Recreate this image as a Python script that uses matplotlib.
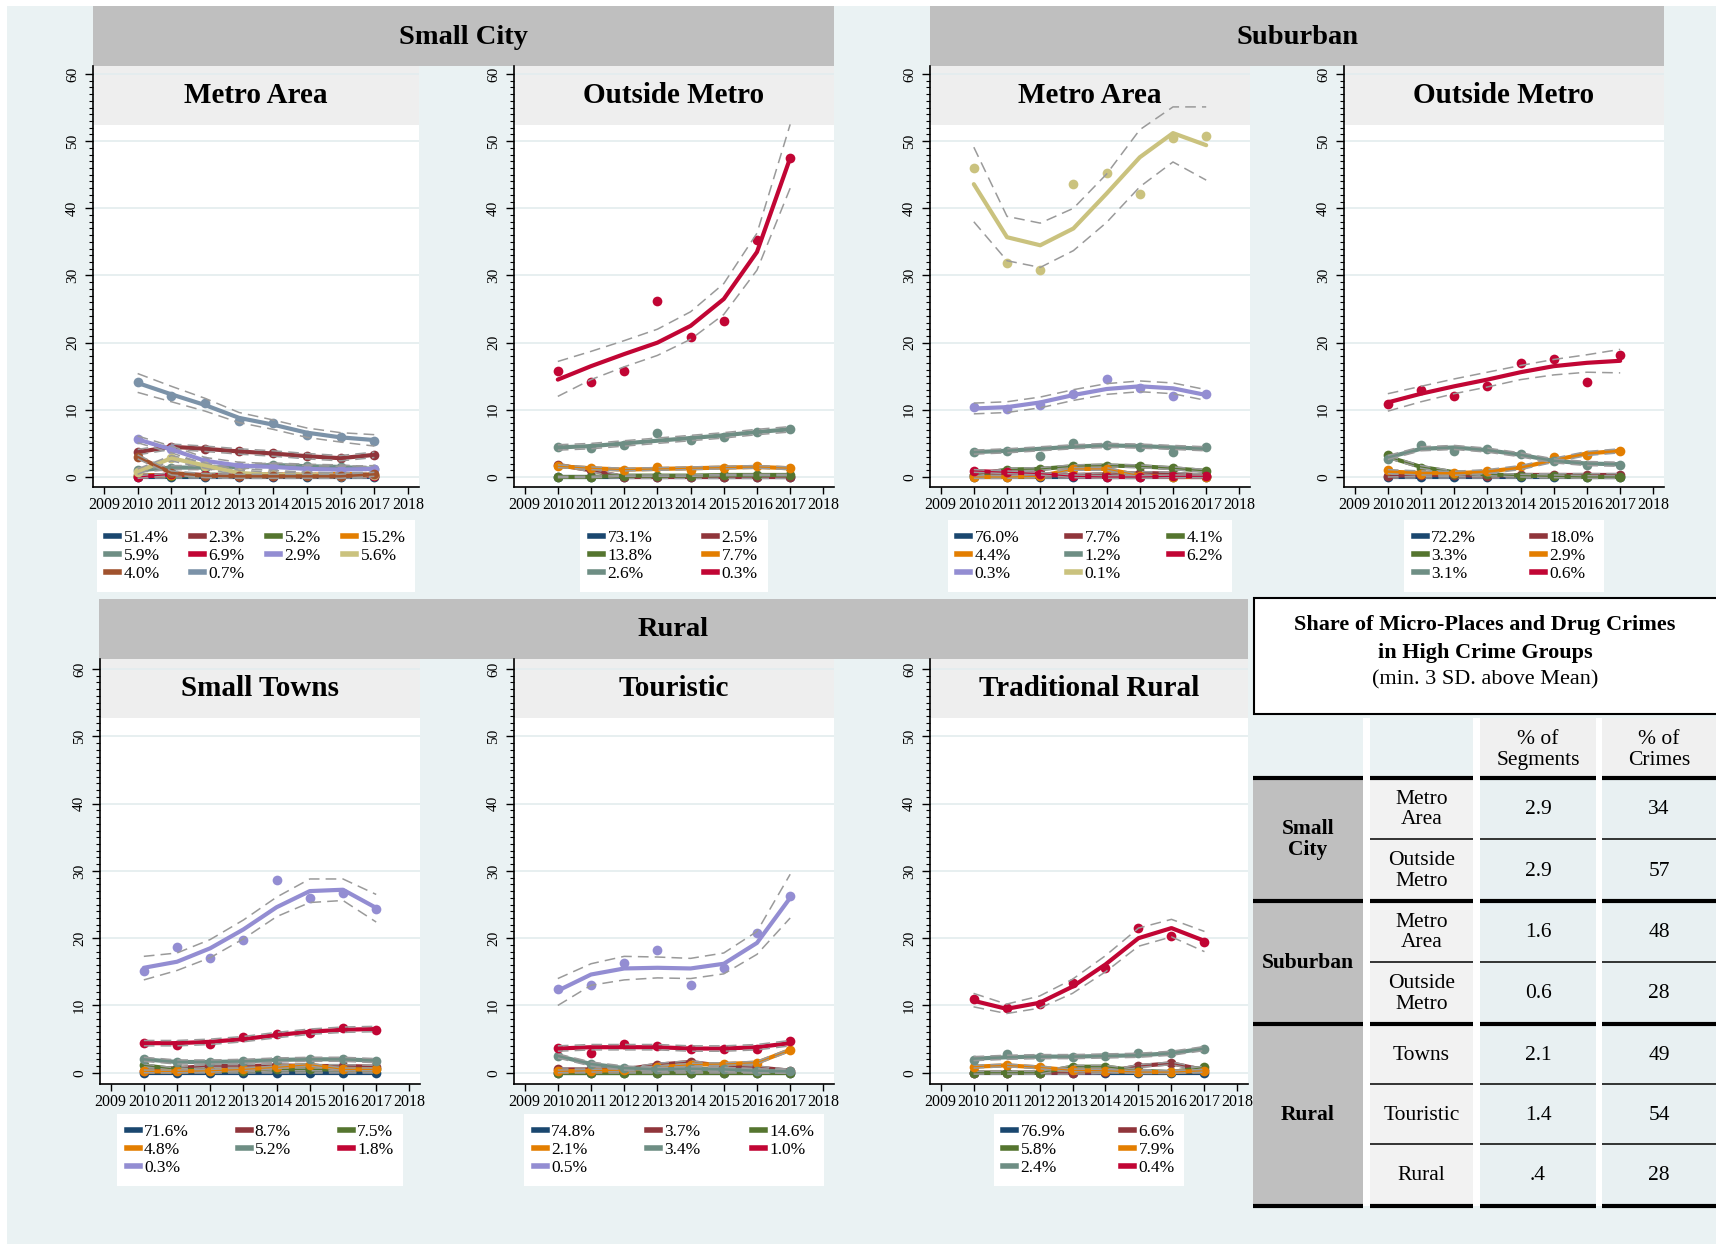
import matplotlib
matplotlib.use('Agg')
import matplotlib.pyplot as plt
from matplotlib.patches import Rectangle
from matplotlib.lines import Line2D

plt.rcParams['font.family'] = ['Liberation Serif', 'DejaVu Serif']

W, H = 1716, 1247
YEARS = [2010, 2011, 2012, 2013, 2014, 2015, 2016, 2017]

# Stata s2color palette
PALETTE = ['#1a476f', '#90353b', '#55752f', '#e37e00', '#6e8e84',
           '#c10534', '#938dd2', '#cac27e', '#a0522d', '#7b92a8']
C_BG = '#EAF2F3'
C_HEAD = '#BFBFBF'
C_SUB = '#EEEEEE'
C_GRID = '#E3ECEE'
C_CI = '#9A9A9A'

# ─────────────────────────────────────────────
# Small City — Metro Area
# ─────────────────────────────────────────────
SCM_SHARES = ['51.4%', '2.3%', '5.2%', '15.2%', '5.9%', '6.9%', '2.9%', '5.6%', '4.0%', '0.7%']
SCM_OBS = [
    [0.0, 0.0, 0.0, 0.0, 0.0, 0.0, 0.0, 0.0],
    [3.7, 4.5, 4.2, 3.8, 3.5, 3.1, 2.8, 3.3],
    [0.3, 0.2, 0.3, 0.4, 0.3, 0.3, 0.2, 0.2],
    [0.2, 0.3, 0.3, 0.2, 0.4, 0.3, 0.5, 0.3],
    [1.0, 1.4, 1.4, 1.5, 1.8, 1.6, 1.5, 1.2],
    [0.0, 0.4, 0.3, 0.2, 0.2, 0.3, 0.2, 0.2],
    [5.6, 4.1, 2.4, 1.7, 1.5, 1.2, 1.1, 1.2],
    [0.8, 2.8, 1.7, 0.6, 0.3, 0.3, 0.2, 0.3],
    [3.0, 0.6, 0.2, 0.1, 0.1, 0.1, 0.1, 0.4],
    [14.1, 12.1, 11.0, 8.4, 8.0, 6.3, 6.0, 5.4],
]
SCM_FIT = [None, None, None, None, None, None, None, None, None,
           [14.0, 12.3, 10.7, 8.8, 7.8, 6.6, 5.9, 5.5]]
SCM_BAND = [0.1, 0.4, 0.2, 0.2, 0.3, 0.2, 0.5, 0.4, 0.3, 0.0]
SCM_MAIN = 9
SCM_LO = [12.6, 11.2, 9.8, 8.1, 7.1, 5.9, 5.2, 4.6]
SCM_HI = [15.4, 13.5, 11.7, 9.6, 8.5, 7.3, 6.6, 6.3]

# ─────────────────────────────────────────────
# Small City — Outside Metro
# ─────────────────────────────────────────────
SCO_SHARES = ['73.1%', '2.5%', '13.8%', '7.7%', '2.6%', '0.3%']
SCO_OBS = [
    [0.0, 0.0, 0.0, 0.0, 0.0, 0.0, 0.0, 0.0],
    [1.8, 1.0, 0.0, 0.0, 0.0, 0.0, 0.0, 0.0],
    [0.0, 0.0, 0.2, 0.2, 0.2, 0.3, 0.3, 0.3],
    [1.7, 1.3, 1.0, 1.5, 1.1, 1.4, 1.6, 1.3],
    [4.5, 4.3, 4.7, 6.5, 5.5, 5.9, 6.7, 7.1],
    [15.8, 14.1, 15.8, 26.2, 20.8, 23.2, 35.3, 47.5],
]
SCO_FIT = [None, None, None,
           [1.6, 1.3, 1.1, 1.2, 1.3, 1.4, 1.5, 1.3],
           [4.4, 4.6, 5.0, 5.4, 5.8, 6.2, 6.7, 7.1],
           [14.5, 16.5, 18.3, 20.0, 22.5, 26.5, 33.5, 47.5]]
SCO_BAND = [0.1, 0.2, 0.1, 0.2, 0.4, 0.0]
SCO_MAIN = 5
SCO_LO = [12.0, 14.5, 16.4, 18.1, 20.5, 24.2, 30.8, 43.0]
SCO_HI = [17.2, 18.7, 20.3, 22.0, 24.6, 28.8, 36.3, 52.5]

# ─────────────────────────────────────────────
# Suburban — Metro Area
# ─────────────────────────────────────────────
SUM_SHARES = ['76.0%', '7.7%', '4.1%', '4.4%', '1.2%', '6.2%', '0.3%', '0.1%']
SUM_OBS = [
    [0.0, 0.0, 0.0, 0.0, 0.0, 0.0, 0.0, 0.0],
    [0.3, 0.3, 0.2, 0.3, 0.4, 0.6, 0.5, 0.2],
    [0.3, 1.1, 1.2, 1.6, 1.7, 1.6, 1.3, 0.9],
    [0.0, 0.0, 0.1, 1.2, 1.2, 0.2, 0.0, 0.0],
    [3.7, 3.9, 3.1, 5.1, 4.7, 4.5, 3.7, 4.4],
    [0.9, 0.7, 0.5, 0.1, 0.0, 0.0, 0.1, 0.1],
    [10.4, 10.1, 10.7, 12.4, 14.6, 13.3, 12.0, 12.4],
    [46.0, 31.8, 30.8, 43.6, 45.2, 42.2, 50.4, 50.8],
]
SUM_FIT = [None, None, None, None,
           [3.7, 3.9, 4.2, 4.5, 4.7, 4.6, 4.4, 4.2],
           None,
           [10.2, 10.4, 11.1, 12.2, 13.1, 13.5, 13.2, 12.2],
           [43.6, 35.7, 34.5, 37.0, 42.2, 47.6, 51.2, 49.4]]
SUM_BAND = [0.1, 0.2, 0.2, 0.2, 0.3, 0.2, 0.8, 0.0]
SUM_MAIN = 7
SUM_LO = [38.0, 32.2, 31.2, 33.7, 37.9, 43.2, 46.9, 44.2]
SUM_HI = [49.1, 38.8, 37.8, 40.0, 45.1, 51.7, 55.1, 55.1]

# ─────────────────────────────────────────────
# Suburban — Outside Metro
# ─────────────────────────────────────────────
SUO_SHARES = ['72.2%', '18.0%', '3.3%', '2.9%', '3.1%', '0.6%']
SUO_OBS = [
    [0.0, 0.0, 0.0, 0.0, 0.0, 0.0, 0.0, 0.0],
    [0.2, 0.3, 0.3, 0.2, 0.3, 0.3, 0.3, 0.3],
    [3.3, 1.4, 0.5, 0.4, 0.2, 0.2, 0.0, 0.0],
    [1.0, 0.5, 0.6, 0.9, 1.6, 3.0, 3.3, 3.9],
    [2.7, 4.7, 3.9, 4.1, 3.4, 2.4, 1.8, 1.8],
    [10.9, 13.0, 12.0, 13.6, 17.0, 17.5, 14.2, 18.2],
]
SUO_FIT = [None, None,
           [3.0, 1.5, 0.7, 0.4, 0.2, 0.1, 0.0, 0.0],
           [0.8, 0.6, 0.55, 0.8, 1.4, 2.5, 3.5, 3.9],
           [2.9, 4.2, 4.4, 4.0, 3.3, 2.4, 2.0, 1.9],
           [11.1, 12.4, 13.5, 14.5, 15.6, 16.5, 17.0, 17.3]]
SUO_BAND = [0.1, 0.2, 0.2, 0.3, 0.3, 0.0]
SUO_MAIN = 5
SUO_LO = [9.8, 11.2, 12.4, 13.4, 14.5, 15.2, 15.6, 15.5]
SUO_HI = [12.4, 13.5, 14.6, 15.6, 16.6, 17.5, 18.2, 19.0]

# ─────────────────────────────────────────────
# Rural — Small Towns
# ─────────────────────────────────────────────
RST_SHARES = ['71.6%', '8.7%', '7.5%', '4.8%', '5.2%', '1.8%', '0.3%']
RST_OBS = [
    [0.0, 0.0, 0.0, 0.0, 0.0, 0.0, 0.0, 0.0],
    [0.3, 0.7, 1.0, 1.0, 1.1, 1.0, 1.0, 0.9],
    [1.1, 0.5, 0.3, 0.3, 0.5, 0.5, 0.5, 0.5],
    [0.2, 0.2, 0.3, 0.5, 0.8, 1.2, 0.5, 0.5],
    [2.0, 1.6, 1.6, 1.7, 1.9, 2.0, 2.0, 1.8],
    [4.4, 4.2, 4.3, 5.3, 5.7, 5.9, 6.6, 6.4],
    [15.1, 18.7, 17.1, 19.7, 28.6, 26.0, 26.7, 24.4],
]
RST_FIT = [None, None, None, None, None,
           [4.4, 4.4, 4.6, 5.0, 5.6, 6.1, 6.4, 6.5],
           [15.6, 16.5, 18.5, 21.3, 24.6, 27.0, 27.2, 24.5]]
RST_BAND = [0.1, 0.2, 0.2, 0.2, 0.3, 0.4, 0.0]
RST_MAIN = 6
RST_LO = [13.8, 15.2, 17.1, 19.9, 23.2, 25.3, 25.6, 22.4]
RST_HI = [17.3, 17.8, 19.8, 22.7, 26.1, 28.8, 28.8, 26.5]

# ─────────────────────────────────────────────
# Rural — Touristic
# ─────────────────────────────────────────────
RTO_SHARES = ['74.8%', '3.7%', '14.6%', '2.1%', '3.4%', '1.0%', '0.5%']
RTO_OBS = [
    [0.0, 0.0, 0.0, 0.0, 0.0, 0.0, 0.0, 0.0],
    [0.5, 0.5, 0.5, 1.2, 1.6, 1.0, 0.8, 0.3],
    [0.0, 0.0, 0.0, 0.0, 0.0, 0.0, 0.0, 0.0],
    [0.2, 0.3, 0.4, 0.8, 1.2, 1.3, 1.5, 3.4],
    [2.5, 1.3, 0.7, 0.5, 0.6, 0.5, 0.3, 0.2],
    [3.7, 3.0, 4.3, 4.0, 3.5, 3.6, 3.5, 4.7],
    [12.4, 13.0, 16.3, 18.2, 13.0, 15.6, 20.8, 26.2],
]
RTO_FIT = [None, None, None, None, None,
           [3.6, 3.8, 3.8, 3.8, 3.6, 3.6, 3.8, 4.4],
           [12.2, 14.6, 15.5, 15.6, 15.5, 16.2, 19.3, 26.0]]
RTO_BAND = [0.1, 0.2, 0.1, 0.2, 0.3, 0.4, 0.0]
RTO_MAIN = 6
RTO_LO = [10.0, 13.0, 13.8, 14.1, 14.0, 14.7, 17.6, 23.0]
RTO_HI = [14.0, 16.2, 17.3, 17.2, 17.0, 17.8, 21.0, 29.5]

# ─────────────────────────────────────────────
# Rural — Traditional Rural
# ─────────────────────────────────────────────
RTR_SHARES = ['76.9%', '6.6%', '5.8%', '7.9%', '2.4%', '0.4%']
RTR_OBS = [
    [0.0, 0.0, 0.0, 0.0, 0.0, 0.0, 0.0, 0.0],
    [0.0, 0.0, 0.0, 0.0, 0.1, 1.0, 1.4, 0.4],
    [0.0, 0.0, 0.0, 0.9, 0.9, 0.3, 0.1, 0.8],
    [0.9, 1.1, 0.8, 0.35, 0.3, 0.1, 0.1, 0.3],
    [1.9, 2.75, 2.4, 2.4, 2.5, 2.9, 2.9, 3.6],
    [10.9, 9.6, 10.2, 13.3, 15.6, 21.5, 20.3, 19.5],
]
RTR_FIT = [None, None, None, None,
           [2.1, 2.3, 2.4, 2.4, 2.5, 2.6, 2.9, 3.6],
           [10.7, 9.5, 10.4, 12.8, 16.1, 20.0, 21.5, 19.6]]
RTR_BAND = [0.1, 0.2, 0.2, 0.2, 0.3, 0.0]
RTR_MAIN = 5
RTR_LO = [9.8, 8.8, 9.6, 11.8, 15.0, 18.8, 20.2, 18.0]
RTR_HI = [11.8, 10.2, 11.4, 13.9, 17.4, 21.5, 22.8, 21.0]

# ─────────────────────────────────────────────
# Summary table
# ─────────────────────────────────────────────
TBL_TITLE = ['Share of Micro-Places and Drug Crimes', 'in High Crime Groups',
             '(min. 3 SD. above Mean)']
TBL_HEAD = ['% of\nSegments', '% of\nCrimes']
TBL_GROUPS = ['Small\nCity', 'Suburban', 'Rural']
TBL_SPAN = [2, 2, 3]
TBL_ROWS = ['Metro\nArea', 'Outside\nMetro', 'Metro\nArea', 'Outside\nMetro',
            'Towns', 'Touristic', 'Rural']
TBL_SEG = ['2.9', '2.9', '1.6', '0.6', '2.1', '1.4', '.4']
TBL_CRIMES = ['34', '57', '48', '28', '49', '54', '28']

# ─────────────────────────────────────────────
# FIGURE
# ─────────────────────────────────────────────
fig = plt.figure(figsize=(W / 100, H / 100), dpi=100)
fig.patch.set_facecolor('white')

bg = fig.add_axes([0, 0, 1, 1], zorder=-1)
bg.set_xlim(0, W)
bg.set_ylim(H, 0)
bg.axis('off')


def box(x0, y0, x1, y1, fc, ec='none', lw=0.0):
    bg.add_patch(Rectangle((x0, y0), x1 - x0, y1 - y0, facecolor=fc,
                           edgecolor=ec, linewidth=lw))


box(7, 6, W, 1244, C_BG)

# group headers
for (x0, y0, x1, y1), name in [((93, 6, 834, 66), 'Small City'),
                               ((930, 6, 1664, 66), 'Suburban'),
                               ((99, 599, 1248, 659), 'Rural')]:
    box(x0, y0, x1, y1, C_HEAD)
    bg.text((x0 + x1) / 2, (y0 + y1) / 2 + 1, name, ha='center', va='center',
            fontsize=20.5, fontweight='bold')

ROW_TOP = dict(y0=66, y1=487, band=125, ylim=(-1.49, 61.19), leg=520)
ROW_BOT = dict(y0=659, y1=1084, band=718, ylim=(-1.67, 61.49), leg=1114)


def panel(x0, x1, row, title, shares, obs, fit, band, main, lo, hi, colsp):
    y0, y1 = row['y0'], row['y1']
    ax = fig.add_axes([x0 / W, 1 - y1 / H, (x1 - x0) / W, (y1 - y0) / H])
    ax.set_facecolor('white')
    ax.set_xlim(2008.68, 2018.32)
    ax.set_ylim(*row['ylim'])
    ax.set_axisbelow(True)

    # subtitle strip inside the plot region
    frac = (y1 - row['band']) / (y1 - y0)
    ax.add_patch(Rectangle((0, frac), 1, 1 - frac, transform=ax.transAxes,
                           facecolor=C_SUB, edgecolor='none', zorder=0.2))
    ax.text(0.5, (frac + 1) / 2, title, transform=ax.transAxes, ha='center',
            va='center', fontsize=21, fontweight='bold', zorder=10)

    ax.set_yticks(range(0, 61, 10))
    ax.set_yticks(range(0, 61), minor=True)
    ax.set_xticks(range(2009, 2019))
    ax.yaxis.grid(True, which='major', color=C_GRID, lw=1.2)
    ax.tick_params(axis='y', which='major', length=6, width=1, labelsize=11,
                   labelrotation=90, pad=4)
    ax.tick_params(axis='y', which='minor', length=3, width=0.8)
    ax.tick_params(axis='x', length=5, width=1, labelsize=11.5, pad=2)
    for lab in ax.get_yticklabels():
        lab.set_va('center')
    for s in ('top', 'right'):
        ax.spines[s].set_visible(False)
    for s in ('left', 'bottom'):
        ax.spines[s].set_linewidth(1.2)

    for i, ys in enumerate(obs):
        c = PALETTE[i]
        line = fit[i] if fit[i] is not None else ys
        z = 2 + 3 * i
        ax.plot(YEARS, line, color=c, lw=3, solid_capstyle='round',
                solid_joinstyle='round', zorder=z)
        ax.plot(YEARS, ys, 'o', color=c, ms=7, mew=0, zorder=z + 1)
        if i == main:
            lower, upper = lo, hi
        else:
            lower = [v - band[i] for v in line]
            upper = [v + band[i] for v in line]
        for b in (lower, upper):
            ax.plot(YEARS, b, color=C_CI, lw=1.1, ls=(0, (7, 4)), zorder=z + 2)

    # legend, filled row by row like the Stata key
    n = len(shares)
    ncol = {10: 4, 8: 3, 7: 3, 6: 2}[n]
    order = [k for j in range(ncol) for k in range(j, n, ncol)]
    handles = [Line2D([], [], color=PALETTE[k], lw=4) for k in order]
    labels = [shares[k] for k in order]
    leg = fig.legend(handles, labels, loc='upper center',
                     bbox_to_anchor=((x0 + x1) / 2 / W, 1 - row['leg'] / H),
                     ncol=ncol, fontsize=12.5, frameon=True, fancybox=False,
                     facecolor='white', edgecolor='white', framealpha=1,
                     handlelength=0.75, handletextpad=0.25,
                     columnspacing=colsp, labelspacing=0.12, borderpad=0.55,
                     borderaxespad=0)
    leg.get_frame().set_linewidth(0)
    return ax


panel(93, 419, ROW_TOP, 'Metro Area', SCM_SHARES, SCM_OBS, SCM_FIT, SCM_BAND,
      SCM_MAIN, SCM_LO, SCM_HI, 1.3)
panel(514, 834, ROW_TOP, 'Outside Metro', SCO_SHARES, SCO_OBS, SCO_FIT, SCO_BAND,
      SCO_MAIN, SCO_LO, SCO_HI, 3.0)
panel(930, 1250, ROW_TOP, 'Metro Area', SUM_SHARES, SUM_OBS, SUM_FIT, SUM_BAND,
      SUM_MAIN, SUM_LO, SUM_HI, 2.75)
panel(1344, 1664, ROW_TOP, 'Outside Metro', SUO_SHARES, SUO_OBS, SUO_FIT, SUO_BAND,
      SUO_MAIN, SUO_LO, SUO_HI, 3.2)
panel(100, 420, ROW_BOT, 'Small Towns', RST_SHARES, RST_OBS, RST_FIT, RST_BAND,
      RST_MAIN, RST_LO, RST_HI, 2.8)
panel(514, 834, ROW_BOT, 'Touristic', RTO_SHARES, RTO_OBS, RTO_FIT, RTO_BAND,
      RTO_MAIN, RTO_LO, RTO_HI, 2.95)
panel(930, 1248, ROW_BOT, 'Traditional Rural', RTR_SHARES, RTR_OBS, RTR_FIT, RTR_BAND,
      RTR_MAIN, RTR_LO, RTR_HI, 3.2)

# ─────────────────────────────────────────────
# TABLE
# ─────────────────────────────────────────────
box(1254, 598, 1722, 714, 'white', ec='black', lw=1.5)
for k, (txt, yy) in enumerate(zip(TBL_TITLE, [625, 653, 680])):
    bg.text(1485, yy, txt, ha='center', va='center', fontsize=16,
            fontweight='bold' if k < 2 else 'normal')

COLS = [(1253, 1363), (1370, 1473), (1480, 1596), (1602, 1716)]
EDGES = [778, 839, 901, 962, 1024, 1084, 1144, 1206]
C_CELL2 = '#F2F2F2'
C_CELL34 = '#E8F0F2'
TFS = 15.5

box(1253, 718, W, 1206, 'white')
for j, (a, b) in enumerate(COLS):
    box(a, 718, b, 778, C_BG if j < 2 else '#F0F0F0')
for j, txt in enumerate(TBL_HEAD):
    a, b = COLS[j + 2]
    bg.text((a + b) / 2, 750, txt, ha='center', va='center', fontsize=TFS,
            linespacing=1.12)

for i in range(len(TBL_ROWS)):
    r0, r1 = EDGES[i], EDGES[i + 1]
    ym = (r0 + r1) / 2
    box(COLS[1][0], r0, COLS[1][1], r1, C_CELL2)
    box(COLS[2][0], r0, COLS[2][1], r1, C_CELL34)
    box(COLS[3][0], r0, COLS[3][1], r1, C_CELL34)
    for j, txt in ((1, TBL_ROWS[i]), (2, TBL_SEG[i]), (3, TBL_CRIMES[i])):
        a, b = COLS[j]
        bg.text((a + b) / 2, ym + 1, txt, ha='center', va='center',
                fontsize=TFS, linespacing=1.12)

start = 0
thick = [EDGES[0]]
for g, span in zip(TBL_GROUPS, TBL_SPAN):
    r0, r1 = EDGES[start], EDGES[start + span]
    box(COLS[0][0], r0, COLS[0][1], r1, C_HEAD)
    bg.text((COLS[0][0] + COLS[0][1]) / 2, (r0 + r1) / 2, g, ha='center',
            va='center', fontsize=TFS, fontweight='bold', linespacing=1.12)
    start += span
    thick.append(r1)

for y in EDGES:
    if y in thick:
        for a, b in COLS:
            bg.plot([a, b], [y, y], color='black', lw=3, solid_capstyle='butt')
    else:
        for a, b in COLS[1:]:
            bg.plot([a, b], [y, y], color='black', lw=1.1, solid_capstyle='butt')

fig.savefig('out.png', dpi=100, facecolor='white')
